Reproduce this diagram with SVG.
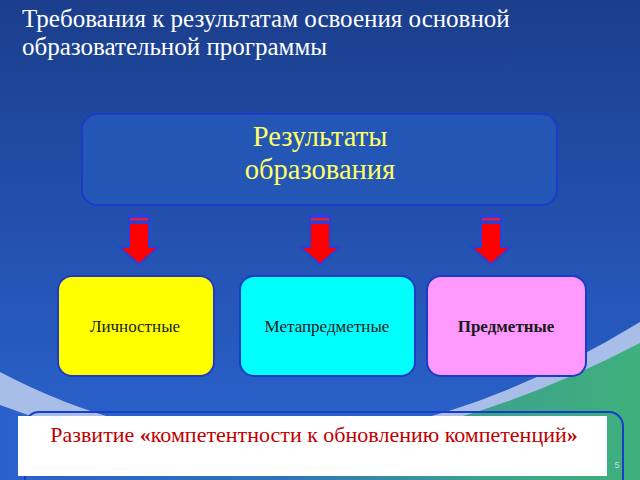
<svg xmlns="http://www.w3.org/2000/svg" width="640" height="480" viewBox="0 0 640 480">
<defs>
<linearGradient id="bgTop" x1="0" y1="0" x2="0" y2="1">
<stop offset="0" stop-color="#1b3e8c"/>
<stop offset="0.5" stop-color="#2350ad"/>
<stop offset="1" stop-color="#2a62cc"/>
</linearGradient>
<linearGradient id="bgLow" x1="0" y1="0" x2="1" y2="0">
<stop offset="0" stop-color="#2a60cc"/>
<stop offset="0.45" stop-color="#2f74b8"/>
<stop offset="0.75" stop-color="#3ca28c"/>
<stop offset="1" stop-color="#3fb07c"/>
</linearGradient>
<g id="arrow">
<path d="M-11 -51 H11 V-19 H22 L0 1 L-22 -19 H-11 Z" fill="#2a40d8"/>
<path d="M-9 -41 H9 V-17 H17 L0 -2 L-17 -17 H-9 Z" fill="#ff0000"/>
<rect x="-9" y="-47" width="18" height="2.5" fill="#e0203a"/>
</g>
</defs>
<style>
.title{font-size:25px;fill:#ffffff}
.big{font-size:28.5px;fill:#ffff66;text-anchor:middle}
.lbl{font-size:17px;fill:#1a1a1a;text-anchor:middle}
.box{stroke:#1a3cc8;stroke-width:2}
</style>
<rect width="640" height="480" fill="url(#bgLow)"/>
<path d="M0 0 H640 V343 Q300 520 0 405 Z" fill="#a9bde9"/>
<path d="M0 0 H640 V322 Q300 530 0 372 Z" fill="url(#bgTop)"/>
<g font-family="Liberation Serif, serif">
<text class="title" x="22" y="27">Требования к результатам освоения основной</text>
<text class="title" x="22" y="55">образовательной программы</text>
<g id="results">
<rect x="82" y="114" width="475" height="91" rx="15" fill="#2456b6" class="box"/>
<text class="big" x="320" y="146">Результаты</text>
<text class="big" x="320" y="179">образования</text>
</g>
<g id="connectors">
<use href="#arrow" x="139" y="265"/>
<use href="#arrow" x="320" y="265"/>
<use href="#arrow" x="491" y="265"/>
</g>
<g id="personal">
<rect x="58" y="276" width="156" height="100" rx="14" fill="#ffff00" class="box"/>
<text class="lbl" x="135" y="332">Личностные</text>
</g>
<g id="meta">
<rect x="240" y="276" width="175" height="100" rx="14" fill="#00ffff" class="box"/>
<text class="lbl" x="327" y="332">Метапредметные</text>
</g>
<g id="subject">
<rect x="427" y="276" width="159" height="100" rx="14" fill="#ff99ff" class="box"/>
<text class="lbl" x="506" y="332" font-weight="bold">Предметные</text>
</g>
<g id="development">
<rect x="25" y="412" width="598" height="80" rx="14" fill="none" class="box"/>
<rect x="18" y="416" width="589" height="60" fill="#ffffff"/>
<text x="314" y="442" text-anchor="middle" font-size="22" fill="#c00000">Развитие <tspan font-weight="bold">«</tspan>компетентности к обновлению компетенций<tspan font-weight="bold">»</tspan></text>
<text x="617" y="468" text-anchor="middle" font-family="Liberation Sans, sans-serif" font-size="9" fill="#c8d8f0">5</text>
</g>
</g>
</svg>
